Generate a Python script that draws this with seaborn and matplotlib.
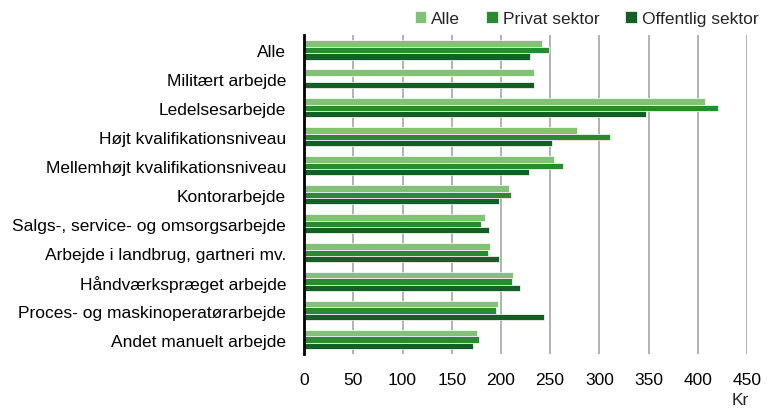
import numpy as np
import pandas as pd
import matplotlib.pyplot as plt
import seaborn as sns

categories = [
    "Alle",
    "Militært arbejde",
    "Ledelsesarbejde",
    "Højt kvalifikationsniveau",
    "Mellemhøjt kvalifikationsniveau",
    "Kontorarbejde",
    "Salgs-, service- og omsorgsarbejde",
    "Arbejde i landbrug, gartneri mv.",
    "Håndværkspræget arbejde",
    "Proces- og maskinoperatørarbejde",
    "Andet manuelt arbejde",
]
series = ["Alle", "Privat sektor", "Offentlig sektor"]
alle = [242, 234, 407, 277, 254, 208, 184, 189, 212, 197, 176]
privat = [249, np.nan, 421, 311, 263, 210, 180, 187, 211, 195, 178]
offentlig = [230, 234, 347, 252, 229, 198, 188, 198, 219, 244, 172]
colors = ["#82c276", "#2a8a32", "#145f25"]

rows = []
for name, vals in zip(series, [alle, privat, offentlig]):
    for cat, v in zip(categories, vals):
        rows.append({"Kategori": cat, "Sektor": name, "Kr": v})
df = pd.DataFrame(rows)

sns.set_style("white")
plt.rcParams["font.family"] = ["Liberation Sans", "DejaVu Sans"]
fs = 12.5

fig = plt.figure(figsize=(7.7, 4.1), dpi=100)
ax = fig.add_axes([0.395, 0.134, 0.575, 0.777])

sns.barplot(data=df, y="Kategori", x="Kr", hue="Sektor", order=categories,
            hue_order=series, palette=colors, saturation=1, orient="h", width=0.66,
            edgecolor="white", linewidth=0.5, ax=ax)

ax.set_xlim(0, 450)
ax.set_xticks(range(0, 451, 50))
ax.grid(axis="x", color="#a6a6a6", linewidth=1.2)
ax.set_axisbelow(True)
for s in ["top", "right", "bottom"]:
    ax.spines[s].set_visible(False)
ax.spines["left"].set_color("black")
ax.spines["left"].set_linewidth(2)
ax.tick_params(axis="both", length=0, labelsize=fs, colors="black")
ax.tick_params(axis="y", pad=13)
ax.tick_params(axis="x", pad=13)
ax.set_ylabel("")
ax.set_xlabel("")
fig.text(0.962, 0.005, "Kr", fontsize=fs, ha="center", va="bottom")

ax.legend(loc="lower right", bbox_to_anchor=(1.048, 1.0), ncol=3, frameon=False,
          fontsize=fs, handlelength=0.65, handleheight=0.65, handletextpad=0.3,
          columnspacing=1.5, borderaxespad=0.15)

fig.savefig("out.png", dpi=100)
